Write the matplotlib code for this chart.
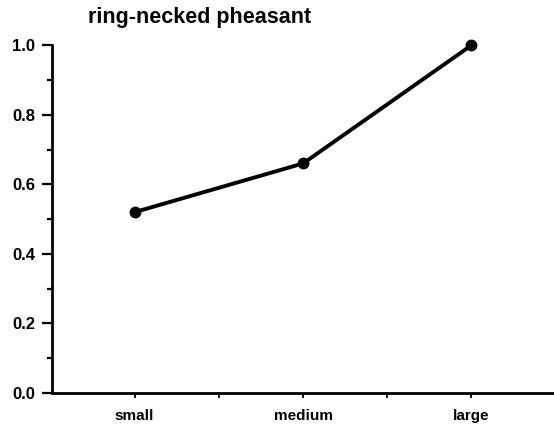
import matplotlib.pyplot as plt
from matplotlib.ticker import MultipleLocator, FixedLocator

# data
sizes = ["small", "medium", "large"]
proportion = [0.52, 0.66, 1.0]

plt.rcParams['font.family'] = ['Liberation Sans', 'DejaVu Sans']

fig = plt.figure(figsize=(5.54, 4.33), dpi=100)
ax = fig.add_axes([0.094, 0.0925, 0.906, 0.803])

x = list(range(len(sizes)))
ax.plot(x, proportion, color="black", linewidth=2.8, marker="o", markersize=7.5,
        clip_on=False)

ax.set_xlim(-0.49, 2.49)
ax.set_ylim(0, 1.0)

# ticks
ax.set_xticks(x)
ax.set_xticklabels(sizes, fontweight="bold", fontsize=11)
ax.xaxis.set_minor_locator(FixedLocator([0.5, 1.5]))
ax.yaxis.set_major_locator(MultipleLocator(0.2))
ax.yaxis.set_minor_locator(MultipleLocator(0.1))
ax.set_yticklabels([f"{v:.1f}" for v in ax.get_yticks()], fontweight="bold", fontsize=12)

ax.tick_params(axis="y", which="major", length=7, width=1.6, direction="out", pad=5)
ax.tick_params(axis="y", which="minor", length=3.5, width=1.6, direction="out")
ax.tick_params(axis="x", which="both", length=3.5, width=1.3, direction="out", pad=8)

for side in ["top", "right"]:
    ax.spines[side].set_visible(False)
ax.spines["left"].set_linewidth(2)
ax.spines["bottom"].set_linewidth(2)

# title sits at the top left of the plot
fig.text(88 / 554, 1 - 18 / 433, "ring-necked pheasant", fontsize=15.5,
         fontweight="bold", ha="left", va="center")

plt.savefig("out.png", dpi=100)
